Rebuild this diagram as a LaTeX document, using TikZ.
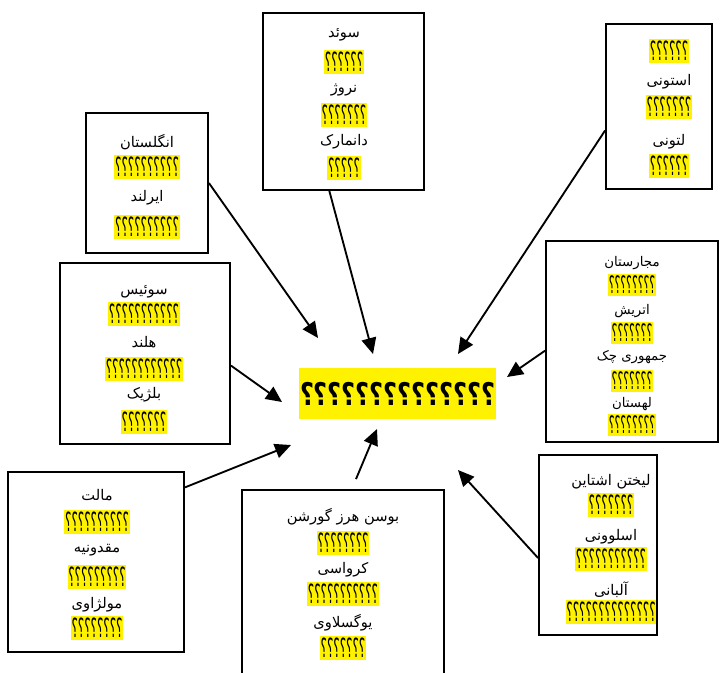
\documentclass[tikz,border=0pt]{standalone}
\usepackage{fontspec}
\usepackage{graphicx}
\usetikzlibrary{positioning,fit,arrows.meta}
\TeXXeTstate=1
\newfontfamily\farsifont[Script=Arabic]{DejaVu Sans}
\newcommand{\fa}[1]{{\farsifont\beginR #1\endR}}
\newcommand{\qs}[1]{{\farsifont\scalebox{1}[2.2]{\beginR #1\endR}}}

\tikzset{
  panel/.style={draw,line width=1.4pt,inner sep=0pt},
  land/.style={inner sep=0pt,font=\fontsize{11}{13}\selectfont},
  hl/.style={fill=yellow,inner xsep=0.6pt,inner ysep=0pt,minimum height=18.5pt,font=\fontsize{9}{10}\selectfont},
  arr/.style={line width=1.4pt,-{Triangle[length=12pt,width=11pt]}}
}

\begin{document}
\begin{tikzpicture}[x=0.75pt,y=-0.75pt]
\useasboundingbox (0,0) rectangle (724,672);

% Centre
\node (core) [fill=yellow,inner sep=0pt,minimum width=147.75pt,minimum height=38pt,
  font=\fontsize{18}{20}\selectfont\bfseries] at (397.5,393.5)
  {{\farsifont\scalebox{1}[1.3]{\beginR ؟؟؟؟؟؟؟؟؟؟؟؟؟؟\endR}}};

% Boxes
\node (sweden)  [panel,fit={(263,13) (424,190)}] {};
\node (estonia) [panel,fit={(606,24) (712,189)}] {};
\node (england) [panel,fit={(86,113) (208,253)}] {};
\node (swiss)   [panel,fit={(60,263) (230,444)}] {};
\node (hungary) [panel,fit={(546,241) (718,442)}] {};
\node (malta)   [panel,fit={(8,472) (184,652)}] {};
\node (bosnia)  [panel,fit={(242,490) (444,680)}] {};
\node (liecht)  [panel,fit={(539,455) (657,635)}] {};

% Sweden
\node (swe1) [land] at (344,35)  {\fa{سوئد}};
\node (swe2) [hl]   at (344,62)  {\qs{؟؟؟؟؟؟}};
\node (swe3) [land] at (344,90)  {\fa{نروژ}};
\node (swe4) [hl]   at (344,115) {\qs{؟؟؟؟؟؟؟}};
\node (swe5) [land] at (344,142) {\fa{دانمارک}};
\node (swe6) [hl]   at (344,168) {\qs{؟؟؟؟؟}};

% Estonia
\node (est1) [hl]   at (669,51)  {\qs{؟؟؟؟؟؟}};
\node (est2) [land] at (669,82)  {\fa{استونی}};
\node (est3) [hl]   at (669,107) {\qs{؟؟؟؟؟؟؟}};
\node (est4) [land] at (669,142) {\fa{لتونی}};
\node (est5) [hl]   at (669,166) {\qs{؟؟؟؟؟؟}};

% England
\node (eng1) [land] at (147,142) {\fa{انگلستان}};
\node (eng2) [hl]   at (147,167) {\qs{؟؟؟؟؟؟؟؟؟؟}};
\node (eng3) [land] at (147,198) {\fa{ایرلند}};
\node (eng4) [hl]   at (147,227) {\qs{؟؟؟؟؟؟؟؟؟؟}};

% Swiss
\node (swi1) [land] at (144,292) {\fa{سوئیس}};
\node (swi2) [hl]   at (144,314) {\qs{؟؟؟؟؟؟؟؟؟؟؟}};
\node (swi3) [land] at (144,342) {\fa{هلند}};
\node (swi4) [hl]   at (144,369) {\qs{؟؟؟؟؟؟؟؟؟؟؟؟}};
\node (swi5) [land] at (144,395) {\fa{بلژیک}};
\node (swi6) [hl]   at (144,422) {\qs{؟؟؟؟؟؟؟}};

% Hungary
\begin{scope}[land/.append style={font=\fontsize{10}{12}\selectfont},
              hl/.append style={minimum height=16.5pt,font=\fontsize{8.2}{9}\selectfont}]
\node (hun1) [land] at (632,263) {\fa{مجارستان}};
\node (hun2) [hl]   at (632,285) {\qs{؟؟؟؟؟؟؟؟}};
\node (hun3) [land] at (632,311) {\fa{اتریش}};
\node (hun4) [hl]   at (632,333) {\qs{؟؟؟؟؟؟؟}};
\node (hun5) [land] at (632,357) {\fa{جمهوری چک}};
\node (hun6) [hl]   at (632,381) {\qs{؟؟؟؟؟؟؟}};
\node (hun7) [land] at (632,404) {\fa{لهستان}};
\node (hun8) [hl]   at (632,425) {\qs{؟؟؟؟؟؟؟؟}};
\end{scope}

% Malta
\node (mal1) [land] at (97,495) {\fa{مالت}};
\node (mal2) [hl]   at (97,522) {\qs{؟؟؟؟؟؟؟؟؟؟}};
\node (mal3) [land] at (97,550) {\fa{مقدونیه}};
\node (mal4) [hl]   at (97,577) {\qs{؟؟؟؟؟؟؟؟؟}};
\node (mal5) [land] at (97,605) {\fa{مولژاوی}};
\node (mal6) [hl]   at (97,628) {\qs{؟؟؟؟؟؟؟؟}};

% Bosnia
\node (bos1) [land] at (343,517) {\fa{بوسن هرز گورشن}};
\node (bos2) [hl]   at (343,543) {\qs{؟؟؟؟؟؟؟؟}};
\node (bos3) [land] at (343,570) {\fa{کرواسی}};
\node (bos4) [hl]   at (343,594) {\qs{؟؟؟؟؟؟؟؟؟؟؟}};
\node (bos5) [land] at (343,623) {\fa{یوگسلاوی}};
\node (bos6) [hl]   at (343,648) {\qs{؟؟؟؟؟؟؟}};

% Liechtenstein
\node (lie1) [land] at (611,482) {\fa{لیختن اشتاین}};
\node (lie2) [hl]   at (611,505) {\qs{؟؟؟؟؟؟؟}};
\node (lie3) [land] at (611,537) {\fa{اسلوونی}};
\node (lie4) [hl]   at (611,559) {\qs{؟؟؟؟؟؟؟؟؟؟؟}};
\node (lie5) [land] at (611,590) {\fa{آلبانی}};
\node (lie6) [hl]   at (611,612) {\qs{؟؟؟؟؟؟؟؟؟؟؟؟؟؟}};

% Arrow tips
\coordinate (tSwe) at (373,354);
\coordinate (tEng) at (318,338);
\coordinate (tEst) at (458,354);
\coordinate (tSwi) at (282,402);
\coordinate (tHun) at (507,377);
\coordinate (tMal) at (291,445);
\coordinate (tBos) at (377,429);
\coordinate (tLie) at (458,470);

\draw[arr] (sweden.-99) -- (tSwe);
\draw[arr] (england.east) -- (tEng);
\draw[arr] (estonia.204) -- (tEst);
\draw[arr] (swiss.-8) -- (tSwi);
\draw[arr] (hungary.186) -- (tHun);
\draw[arr] (malta.40) -- (tMal);
\draw[arr] ([shift={(13,-10)}]bosnia.north) -- (tBos);
\draw[arr] (liecht.west|-0,558) -- (tLie);

\end{tikzpicture}
\end{document}
